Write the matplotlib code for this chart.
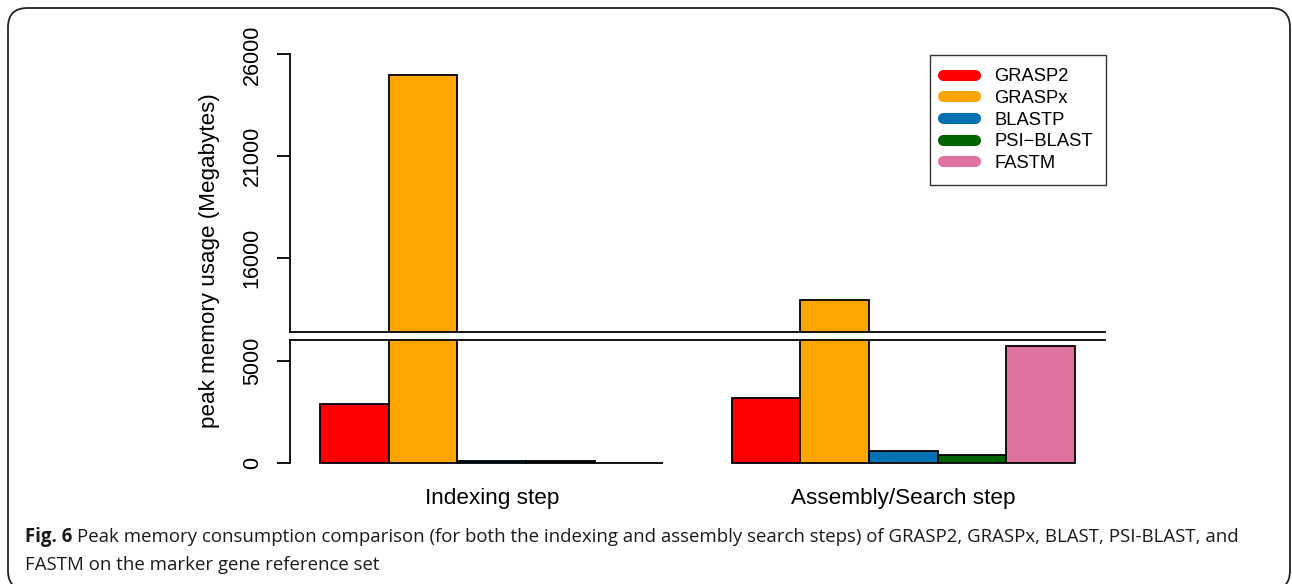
import matplotlib
matplotlib.use("Agg")
import matplotlib.pyplot as plt
from matplotlib.lines import Line2D
from matplotlib.patches import FancyBboxPatch
import numpy as np

# ---------------- data ----------------
steps = ["Indexing step", "Assembly/Search step"]
tools = ["GRASP2", "GRASPx", "BLASTP", "PSI\u2212BLAST", "FASTM"]
colors = ["#FF0000", "#FFA500", "#0072B2", "#006400", "#E072A0"]
indexing_mb = [2900, 25000, 80, 80, 0]
search_mb = [3150, 13950, 550, 400, 5730]
yticks_low = [0, 5000]
yticks_high = [16000, 21000, 26000]
ytick_labels_low = ["0", "5000"]
ytick_labels_high = ["16000", "21000", "26000"]

# ---------------- layout (pixels) ----------------
W, H = 1292, 584
fig = plt.figure(figsize=(W / 100, H / 100), dpi=100)
plt.rcParams['font.family'] = ['Liberation Sans', 'DejaVu Sans']

s = 101.95 / 5000.0           # px per MB
y0_px = 462.7                 # pixel row of 0
low_top, low_bot = 6000, -250
up_bot, up_top = 12400, 26500
y16_px = 258.3

def fy(px):
    return (H - px) / H

low_top_px = y0_px - low_top * s
low_bot_px = y0_px - low_bot * s
up_bot_px = y16_px + (16000 - up_bot) * s
up_top_px = y16_px - (up_top - 16000) * s

xl, xr = 290, 1105
ax_low = fig.add_axes([xl / W, fy(low_bot_px), (xr - xl) / W, (low_bot_px - low_top_px) / H])
ax_up = fig.add_axes([xl / W, fy(up_bot_px), (xr - xl) / W, (up_bot_px - up_top_px) / H])

# bar positions as in R barplot(beside=TRUE)
n = len(tools)
x1 = 1 + np.arange(n) + 0.5
x2 = 1 + n + 1 + np.arange(n) + 0.5
for ax in (ax_low, ax_up):
    ax.bar(x1, indexing_mb, width=1.0, color=colors, edgecolor="black", linewidth=1.3)
    ax.bar(x2, search_mb, width=1.0, color=colors, edgecolor="black", linewidth=1.3)
    ax.set_xlim(0.56, 12.44)
    ax.set_xticks([])
    ax.spines['right'].set_visible(False)
    ax.patch.set_alpha(0)
    ax.tick_params(axis='y', length=13.3 * 0.72, width=1.3, pad=10, labelsize=15.5,
                   labelrotation=90)

ax_low.set_ylim(low_bot, low_top)
ax_low.spines['bottom'].set_visible(False)
ax_low.spines['left'].set_bounds(0, low_top)
ax_low.spines['top'].set_linewidth(1.3)
ax_low.spines['left'].set_linewidth(1.3)
ax_low.set_yticks(yticks_low)
ax_low.set_yticklabels(ytick_labels_low, rotation=90, va='center')

ax_up.set_ylim(up_bot, up_top)
ax_up.spines['top'].set_visible(False)
ax_up.spines['left'].set_bounds(up_bot, 26000)
ax_up.spines['bottom'].set_linewidth(1.3)
ax_up.spines['left'].set_linewidth(1.3)
ax_up.set_yticks(yticks_high)
ax_up.set_yticklabels(ytick_labels_high, rotation=90, va='center')

# group labels
for xs, lab in ((x1, steps[0]), (x2, steps[1])):
    ax_low.text(xs.mean(), -0.24, lab, transform=ax_low.get_xaxis_transform(),
                ha='center', va='center', fontsize=16.2)

fig.text(210 / W, fy(261), "peak memory usage (Megabytes)", rotation=90,
         ha='center', va='center', fontsize=16.1)

# legend
handles = [Line2D([0], [0], color=c, lw=8, solid_capstyle='round') for c in colors]
leg = ax_up.legend(handles, tools, loc='upper left',
                   bbox_to_anchor=((930 - xl) / (xr - xl), 1 - (55 - up_top_px) / (up_bot_px - up_top_px)),
                   frameon=True, fancybox=False, fontsize=13.2, handlelength=1.75,
                   handletextpad=1.05, labelspacing=0.255, borderpad=0.72,
                   borderaxespad=0)
leg.get_frame().set_edgecolor('black')
leg.get_frame().set_linewidth(1.0)

# caption
cap_fs = 13.45
cap_y1, cap_y2 = fy(537), fy(565)
t1 = fig.text(25 / W, cap_y1, "Fig. 6", fontsize=cap_fs, fontweight='bold', color='#1a1a1a',
              family=['Open Sans', 'DejaVu Sans'], ha='left', va='center')
fig.canvas.draw()
bb = t1.get_window_extent()
fig.text((bb.x1 + 5) / W, cap_y1,
         "Peak memory consumption comparison (for both the indexing and assembly search steps) of GRASP2, GRASPx, BLAST, PSI-BLAST, and",
         fontsize=cap_fs, color='#1a1a1a', family=['Open Sans', 'DejaVu Sans'], ha='left', va='center')
fig.text(25 / W, cap_y2, "FASTM on the marker gene reference set",
         fontsize=cap_fs, color='#1a1a1a', family=['Open Sans', 'DejaVu Sans'], ha='left', va='center')

# rounded frame (bottom edge runs past the image)
frame = FancyBboxPatch((8 / W, -6 / H), (W - 2) / W - 8 / W, (H - 8) / H + 6 / H,
                       boxstyle="round,pad=0,rounding_size=0.015", transform=fig.transFigure,
                       fill=False, edgecolor='#222222', linewidth=1.3, mutation_aspect=W / H)
fig.patches.append(frame)

fig.savefig("out.png", dpi=100)
